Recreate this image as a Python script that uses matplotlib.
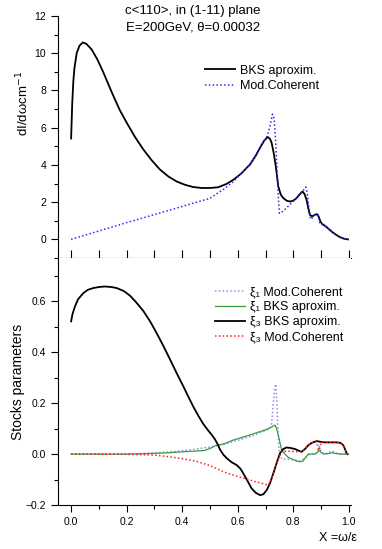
import matplotlib
matplotlib.use("Agg")
import matplotlib.pyplot as plt
from matplotlib.ticker import MultipleLocator

plt.rcParams['font.family'] = ['Liberation Sans', 'DejaVu Sans']

# top panel: spectrum dI/dw
bks_x = [0.0, 0.004, 0.008, 0.012, 0.02, 0.03, 0.042, 0.055, 0.074, 0.095, 0.116,
         0.135, 0.152, 0.175, 0.2, 0.23, 0.26, 0.29, 0.32, 0.35, 0.38, 0.41, 0.44,
         0.47, 0.5, 0.53, 0.56, 0.584, 0.61, 0.644, 0.665, 0.68, 0.695, 0.7075,
         0.716, 0.722, 0.73, 0.737, 0.746, 0.755, 0.764, 0.776, 0.788, 0.8, 0.812,
         0.823, 0.833, 0.84, 0.848, 0.855, 0.86, 0.866, 0.872, 0.879, 0.886, 0.892,
         0.898, 0.904, 0.91, 0.92, 0.932, 0.944, 0.956, 0.968, 0.98, 0.99, 0.997]
bks_I = [5.42, 7.3, 8.5, 9.2, 10.0, 10.4, 10.58, 10.5, 10.2, 9.65, 8.97,
         8.3, 7.71, 6.95, 6.27, 5.5, 4.83, 4.25, 3.75, 3.38, 3.11, 2.93, 2.81,
         2.76, 2.76, 2.8, 2.98, 3.2, 3.5, 4.02, 4.5, 4.92, 5.3, 5.5,
         5.4, 5.19, 4.6, 3.92, 2.84, 2.4, 2.22, 2.08, 2.03, 2.08, 2.22,
         2.42, 2.57, 2.45, 2.12, 1.6, 1.31, 1.25, 1.26, 1.33, 1.35, 1.2,
         0.95, 0.82, 0.77, 0.66, 0.5, 0.35, 0.23, 0.12, 0.05, 0.01, 0.0]

coh_x = [0.0, 0.1, 0.2, 0.3, 0.4, 0.464, 0.5, 0.524, 0.55, 0.584, 0.61, 0.644, 0.68,
         0.7075, 0.718, 0.725, 0.731, 0.736, 0.741, 0.746, 0.75, 0.762, 0.775, 0.79,
         0.812, 0.83, 0.845, 0.85, 0.856, 0.862, 0.868, 0.875, 0.89, 0.893, 0.896,
         0.903, 0.91, 0.92, 0.932, 0.944, 0.956, 0.968, 0.98, 0.99, 0.997]
coh_I = [0.0, 0.45, 0.9, 1.33, 1.77, 2.05, 2.2, 2.45, 2.7, 3.1, 3.5, 4.02, 4.92,
         5.6, 6.2, 6.72, 6.5, 5.4, 3.92, 2.3, 1.4, 1.5, 1.68, 1.9,
         2.22, 2.5, 2.81, 2.5, 1.7, 1.08, 1.15, 1.3, 1.31, 1.0, 0.83,
         0.8, 0.75, 0.66, 0.5, 0.35, 0.23, 0.12, 0.05, 0.01, 0.0]

# bottom panel: Stokes parameters
xi3_bks_x = [0.0, 0.005, 0.014, 0.025, 0.044, 0.06, 0.08, 0.1, 0.122, 0.145, 0.164,
             0.19, 0.212, 0.235, 0.26, 0.285, 0.308, 0.332, 0.356, 0.38, 0.404, 0.42,
             0.44, 0.46, 0.476, 0.494, 0.506, 0.518, 0.528, 0.536, 0.548, 0.56, 0.578,
             0.596, 0.61, 0.62, 0.635, 0.65, 0.665, 0.68, 0.692, 0.704, 0.716, 0.728,
             0.74, 0.752, 0.764, 0.776, 0.79, 0.806, 0.818, 0.83, 0.842, 0.854, 0.868,
             0.884, 0.9, 0.914, 0.935, 0.956, 0.97, 0.98, 0.986, 0.992, 0.996]
xi3_bks = [0.521, 0.55, 0.58, 0.608, 0.632, 0.645, 0.652, 0.656, 0.658, 0.656, 0.652,
           0.64, 0.622, 0.595, 0.562, 0.52, 0.475, 0.425, 0.372, 0.318, 0.266, 0.23,
           0.186, 0.147, 0.118, 0.092, 0.076, 0.058, 0.038, 0.018, -0.002, -0.016, -0.032,
           -0.043, -0.058, -0.076, -0.105, -0.135, -0.152, -0.161, -0.158, -0.142, -0.115, -0.076,
           -0.035, 0.003, 0.02, 0.026, 0.024, 0.02, 0.014, 0.009, 0.02, 0.035, 0.045,
           0.051, 0.048, 0.046, 0.046, 0.046, 0.044, 0.035, 0.02, 0.003, 0.0]

xi3_coh_x = [0.0, 0.1, 0.2, 0.25, 0.3, 0.35, 0.4, 0.45, 0.5, 0.55, 0.6, 0.65, 0.69, 0.71,
             0.722, 0.732, 0.74, 0.75, 0.758, 0.77, 0.79, 0.806, 0.83, 0.845, 0.854, 0.868,
             0.884, 0.888, 0.893, 0.9, 0.914, 0.935, 0.956, 0.97, 0.98, 0.986, 0.992, 0.996]
xi3_coh = [0.0, 0.0, -0.001, -0.002, -0.004, -0.01, -0.018, -0.028, -0.045, -0.07, -0.088,
           -0.104, -0.116, -0.122, -0.095, -0.065, -0.037, -0.01, 0.009, 0.011, 0.011, 0.01,
           0.009, 0.025, 0.035, 0.045, 0.048, 0.03, 0.015, 0.045, 0.046, 0.046, 0.046,
           0.044, 0.035, 0.02, 0.003, 0.0]

xi1_coh_x = [0.0, 0.2, 0.25, 0.3, 0.35, 0.4, 0.45, 0.5, 0.55, 0.6, 0.65, 0.7, 0.715,
             0.722, 0.728, 0.733, 0.737, 0.741, 0.745, 0.75, 0.76, 0.78, 0.8, 0.82, 0.842,
             0.854, 0.87, 0.885, 0.893, 0.9, 0.91, 0.925, 0.94, 0.955, 0.97, 0.99, 0.996]
xi1_coh = [0.0, 0.0, 0.002, 0.004, 0.008, 0.013, 0.02, 0.028, 0.038, 0.054, 0.07, 0.092, 0.1,
           0.12, 0.2, 0.26, 0.275, 0.2, 0.08, 0.0, -0.02, -0.02, -0.022, -0.028, -0.017,
           -0.003, 0.0, 0.005, 0.03, 0.012, 0.0, 0.005, 0.012, 0.004, 0.0, 0.0, 0.0]

xi1_bks_x = [0.0, 0.2, 0.25, 0.3, 0.35, 0.4, 0.45, 0.48, 0.5, 0.524, 0.55, 0.584, 0.614,
             0.644, 0.674, 0.704, 0.72, 0.734, 0.74, 0.746, 0.752, 0.758, 0.77, 0.782, 0.8,
             0.812, 0.824, 0.834, 0.842, 0.848, 0.854, 0.866, 0.878, 0.886, 0.893, 0.9,
             0.91, 0.925, 0.94, 0.955, 0.97, 0.99, 0.996]
xi1_bks = [0.0, 0.0, 0.001, 0.003, 0.005, 0.009, 0.012, 0.014, 0.022, 0.035, 0.04, 0.055, 0.065,
           0.075, 0.086, 0.097, 0.105, 0.114, 0.1, 0.075, 0.045, 0.016, 0.0, -0.013, -0.022,
           -0.027, -0.03, -0.028, -0.017, -0.008, 0.0, 0.0, 0.0, 0.006, 0.016, 0.006,
           0.0, 0.002, 0.005, 0.002, 0.0, 0.0, 0.0]

dots = (0, (1, 1.5))

fig = plt.figure(figsize=(3.82, 5.49), dpi=100)
ax1 = fig.add_axes([0.152, 0.5301, 0.767, 0.4408])
ax2 = fig.add_axes([0.152, 0.0801, 0.767, 0.4500])

ax1.plot(bks_x, bks_I, color='black', lw=1.3, label='BKS aproxim.')
ax1.plot(coh_x, coh_I, color='#2b2bff', lw=1.1, linestyle=dots, label='Mod.Coherent')

ax2.plot(xi1_coh_x, xi1_coh, color='#8c8cff', lw=1.1, linestyle=dots, label='\u03be\u2081 Mod.Coherent')
ax2.plot(xi1_bks_x, xi1_bks, color='#3a9a3a', lw=0.9, label='\u03be\u2081 BKS aproxim.')
ax2.plot(xi3_bks_x, xi3_bks, color='black', lw=1.3, label='\u03be\u2083 BKS aproxim.')
ax2.plot(xi3_coh_x, xi3_coh, color='#ff2020', lw=1.1, linestyle=dots, label='\u03be\u2083 Mod.Coherent')

for ax in (ax1, ax2):
    ax.set_xlim(-0.047, 1.008)
    ax.spines['top'].set_visible(False)
    ax.spines['right'].set_visible(False)
    ax.xaxis.set_major_locator(MultipleLocator(0.2))
    ax.xaxis.set_minor_locator(MultipleLocator(0.1))
    ax.tick_params(which='major', length=5, width=0.8, labelsize=7.5)
    ax.tick_params(which='minor', length=3, width=0.8)

ax1.set_ylim(-1, 12)
ax1.yaxis.set_major_locator(MultipleLocator(2))
ax1.yaxis.set_minor_locator(MultipleLocator(1))
ax1.tick_params(axis='x', which='both', direction='inout', length=11, labelbottom=False)
ax1.set_ylabel('dI/d\u03c9cm$^{-1}$', fontsize=9.5)
ax1.yaxis.set_label_coords(-0.09, 0.64)

ax2.set_ylim(-0.2, 0.77)
ax2.yaxis.set_major_locator(MultipleLocator(0.2))
ax2.yaxis.set_minor_locator(MultipleLocator(0.1))
ax2.set_ylabel('Stocks parameters', fontsize=10)
ax2.yaxis.set_label_coords(-0.113, 0.5)

ax1.legend(loc='upper left', bbox_to_anchor=(0.50, 0.798), frameon=False, fontsize=9,
           handlelength=2.4, handletextpad=0.4, labelspacing=0.26, borderpad=0, borderaxespad=0)
ax2.legend(loc='upper left', bbox_to_anchor=(0.535, 0.887), frameon=False, fontsize=9,
           handlelength=2.4, handletextpad=0.4, labelspacing=0.26, borderpad=0, borderaxespad=0)

fig.text(0.505, 0.980, 'c<110>, in (1-11) plane', ha='center', va='center', fontsize=9.5)
fig.text(0.505, 0.950, 'E=200GeV, \u03b8=0.00032', ha='center', va='center', fontsize=9.5)
fig.text(0.885, 0.020, 'X =\u03c9/\u03b5', ha='center', va='center', fontsize=9)

fig.savefig('out.png', dpi=100)
